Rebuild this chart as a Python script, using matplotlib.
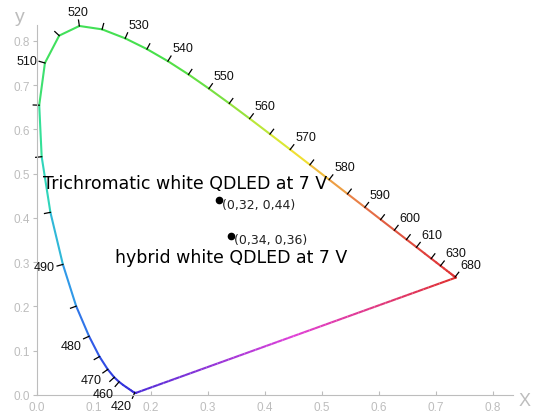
import numpy as np
import matplotlib
matplotlib.use("Agg")
from matplotlib import pyplot as plt
from matplotlib.collections import LineCollection
from matplotlib.colors import LinearSegmentedColormap

# CIE 1931 spectral locus (5 nm steps)
wl = list(range(380, 705, 5))
cie_x = [0.1741, 0.1740, 0.1738, 0.1736, 0.1733, 0.1730, 0.1726, 0.1721, 0.1714, 0.1703,
         0.1689, 0.1669, 0.1644, 0.1611, 0.1566, 0.1510, 0.1440, 0.1355, 0.1241, 0.1096,
         0.0913, 0.0687, 0.0454, 0.0235, 0.0082, 0.0039, 0.0139, 0.0389, 0.0743, 0.1142,
         0.1547, 0.1929, 0.2296, 0.2658, 0.3016, 0.3373, 0.3731, 0.4087, 0.4441, 0.4788,
         0.5125, 0.5448, 0.5752, 0.6029, 0.6270, 0.6482, 0.6658, 0.6801, 0.6915, 0.7006,
         0.7079, 0.7140, 0.7190, 0.7230, 0.7260, 0.7283, 0.7300, 0.7311, 0.7320, 0.7327,
         0.7334, 0.7340, 0.7344, 0.7346, 0.7347]
cie_y = [0.0050, 0.0050, 0.0049, 0.0049, 0.0048, 0.0048, 0.0048, 0.0048, 0.0051, 0.0058,
         0.0069, 0.0086, 0.0109, 0.0138, 0.0177, 0.0227, 0.0297, 0.0399, 0.0578, 0.0868,
         0.1327, 0.2007, 0.2950, 0.4127, 0.5384, 0.6548, 0.7502, 0.8120, 0.8338, 0.8262,
         0.8059, 0.7816, 0.7543, 0.7243, 0.6923, 0.6589, 0.6245, 0.5896, 0.5547, 0.5202,
         0.4866, 0.4544, 0.4242, 0.3965, 0.3725, 0.3514, 0.3340, 0.3197, 0.3083, 0.2993,
         0.2920, 0.2859, 0.2809, 0.2770, 0.2740, 0.2717, 0.2700, 0.2689, 0.2680, 0.2673,
         0.2666, 0.2660, 0.2656, 0.2654, 0.2653]

tick_wl = [420] + list(range(460, 615, 5)) + [620, 630, 680]
label_wl = [420, 460, 470, 480, 490, 510, 520, 530, 540, 550, 560, 570, 580, 590,
            600, 610, 630, 680]

# measured white points
pts_x = [0.32, 0.34]
pts_y = [0.44, 0.36]
pts_txt = ["(0,32, 0,44)", "(0,34, 0,36)"]

# colours along the locus
col_wl = [380, 440, 465, 480, 490, 500, 510, 540, 555, 565, 572, 580, 590, 600, 620, 700]
col_hex = ["#4a2ad8", "#3a30d8", "#3038e0", "#3060e8", "#30a8e8", "#30e0b0", "#40e060",
           "#48e048", "#80e040", "#c8e838", "#f0e830", "#f0b040", "#e87848", "#e05840",
           "#e03c3c", "#e03030"]

W, H = 536, 414
fig = plt.figure(figsize=(W / 100, H / 100), dpi=100)
ax = fig.add_axes([37 / W, 18 / H, 476 / W, 370 / H])
xmax, ymax = 0.835, 0.836
ax.set_xlim(0, xmax)
ax.set_ylim(0, ymax)
sx = 476 / xmax
sy = 370 / ymax

lo, hi = col_wl[0], col_wl[-1]
cmap = LinearSegmentedColormap.from_list(
    "spec", [((w - lo) / (hi - lo), c) for w, c in zip(col_wl, col_hex)])

xs = np.array(cie_x)
ys = np.array(cie_y)
segs = [[(xs[i], ys[i]), (xs[i + 1], ys[i + 1])] for i in range(len(xs) - 1)]
mids = [((wl[i] + wl[i + 1]) / 2 - lo) / (hi - lo) for i in range(len(xs) - 1)]
ax.add_collection(LineCollection(segs, colors=cmap(mids), linewidth=1.5,
                                 capstyle="round"))

# line of purples
purp = LinearSegmentedColormap.from_list("purp", ["#e03030", "#e040d8", "#4a2ad8"])
t = np.linspace(0, 1, 60)
px = xs[-1] + (xs[0] - xs[-1]) * t
py = ys[-1] + (ys[0] - ys[-1]) * t
psegs = [[(px[i], py[i]), (px[i + 1], py[i + 1])] for i in range(len(t) - 1)]
ax.add_collection(LineCollection(psegs, colors=purp(t[:-1]), linewidth=1.5))

# wavelength ticks + labels
for w in tick_wl:
    i = wl.index(w)
    tx = (xs[i + 1] - xs[i - 1]) * sx
    ty = (ys[i + 1] - ys[i - 1]) * sy
    n = np.hypot(tx, ty)
    nx, ny = -ty / n, tx / n
    L = 6
    ax.plot([xs[i], xs[i] + nx * L / sx], [ys[i], ys[i] + ny * L / sy],
            color="black", lw=0.9, clip_on=False)
    if w in label_wl:
        ha = "left" if nx > 0.35 else ("right" if nx < -0.35 else "center")
        va = "bottom" if ny > 0.35 else ("top" if ny < -0.35 else "center")
        d = (L + 2) * 0.72
        ax.annotate(str(w), (xs[i], ys[i]), xytext=(nx * d, ny * d),
                    textcoords="offset points", ha=ha, va=va, fontsize=9,
                    family="Liberation Sans", color="#111111",
                    annotation_clip=False)

ax.plot(pts_x, pts_y, "o", color="black", markersize=4.5)
for x, y, s in zip(pts_x, pts_y, pts_txt):
    ax.annotate(s, (x, y), xytext=(2, -3), textcoords="offset points",
                ha="left", va="center", fontsize=9, family="DejaVu Sans",
                color="#222222")

ax.text(0.01, 0.479, "Trichromatic white QDLED at 7 V", fontsize=12.5,
        family="DejaVu Sans", va="center", ha="left")
ax.text(0.137, 0.312, "hybrid white QDLED at 7 V", fontsize=12.5,
        family="DejaVu Sans", va="center", ha="left")

for s in ["top", "right"]:
    ax.spines[s].set_visible(False)
for s in ["left", "bottom"]:
    ax.spines[s].set_color("#bdbdbd")
ax.set_xticks(np.arange(0, 0.81, 0.1))
ax.set_yticks(np.arange(0, 0.81, 0.1))
ax.set_xticklabels(["%.1f" % v for v in np.arange(0, 0.81, 0.1)])
ax.set_yticklabels(["%.1f" % v for v in np.arange(0, 0.81, 0.1)])
ax.tick_params(axis="x", direction="in", length=3, colors="#bdbdbd",
               labelsize=8.5, pad=4)
ax.tick_params(axis="y", direction="out", length=3, colors="#bdbdbd",
               labelsize=8.5, pad=2)
for lab in ax.get_xticklabels() + ax.get_yticklabels():
    lab.set_family("Liberation Sans")

fig.text(20 / W, 1 - 18 / H, "y", fontsize=14, color="#bdbdbd", ha="center",
         va="center", family="Liberation Sans")
fig.text(525 / W, 1 - 402 / H, "X", fontsize=13, color="#bdbdbd", ha="center",
         va="center", family="Liberation Sans")

fig.savefig("out.png", dpi=100)
